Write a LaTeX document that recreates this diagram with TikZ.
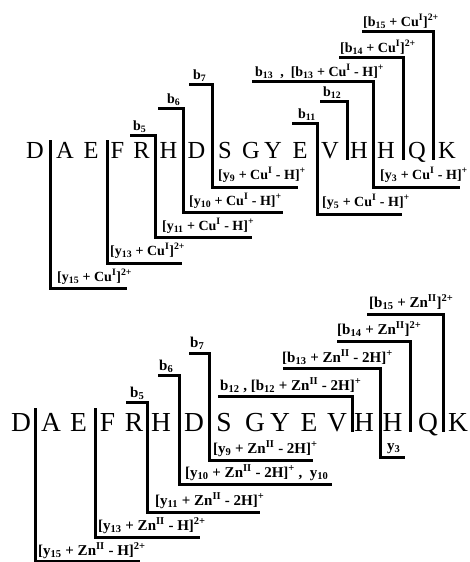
\documentclass[tikz,border=0pt]{standalone}
\usepackage{fontspec}
\setmainfont{Liberation Serif}
\newcommand\CuI{Cu\textsuperscript{I}}
\newcommand\ZnII{Zn\textsuperscript{II}}
\newcommand\sbb[1]{\textsubscript{#1}}
\newcommand\spp[1]{\textsuperscript{#1}}
\begin{document}
\begin{tikzpicture}[x=1pt,y=-1pt,
  res/.style={font=\fontsize{24.5}{26}\selectfont, anchor=base, inner sep=0pt},
  resB/.style={font=\fontsize{27.5}{29}\selectfont, anchor=base, inner sep=0pt},
  lab/.style={font=\bfseries\fontsize{14}{16}\selectfont, anchor=base west, inner sep=0pt},
  labB/.style={font=\bfseries\fontsize{15}{17}\selectfont, anchor=base west, inner sep=0pt},
  frag/.style={line width=3pt, line join=miter, line cap=butt}]
\useasboundingbox (0,0) rectangle (470,562);

% ---------------- top panel: Cu(I) ----------------
\foreach \l/\x [count=\i] in {D/35,A/65,E/91,F/117.5,R/141.5,H/168.5,D/196.5,S/225,G/251,Y/273,E/300,V/330,H/359,H/386,Q/417,K/447}
  \node[res] (t\i) at (\x,158) {\l};

% y ions (downward)
\draw[frag] (50,140) -- (50,288) -- (127,288);
\draw[frag] (107,140) -- (107,263) -- (182,263);
% b/y sharing cleavage
\draw[frag] (130,135) -- (155,135) -- (155,237) -- (252,237);
\draw[frag] (158,108) -- (183,108) -- (183,212) -- (283,212);
\draw[frag] (189,84) -- (212,84) -- (212,187) -- (298,187);
\draw[frag] (292,123) -- (317,123) -- (317,214) -- (402,214);
\draw[frag] (320,101) -- (347,101) -- (347,160);
\draw[frag] (252,81) -- (373,81) -- (373,187) -- (460,187);
\draw[frag] (339,57) -- (403,57) -- (403,160);
\draw[frag] (362,31) -- (433,31) -- (433,160);

% labels top
\node[lab] (tb5) at (133,130) {b\sbb{5}};
\node[lab] (tb6) at (167,103) {b\sbb{6}};
\node[lab] (tb7) at (193,79) {b\sbb{7}};
\node[lab] (tb11) at (298,118) {b\sbb{11}};
\node[lab] (tb12) at (323,96) {b\sbb{12}};
\node[lab] (tb13) at (255,76) {b\sbb{13}\ \ ,\ \ [b\sbb{13} + \CuI{} - H]\spp{+}};
\node[lab] (tb14) at (340,52) {[b\sbb{14} + \CuI]\spp{2+}};
\node[lab] (tb15) at (363,26) {[b\sbb{15} + \CuI]\spp{2+}};
\node[lab] (ty9) at (218,179) {[y\sbb{9} + \CuI{} - H]\spp{+}};
\node[lab] (ty3) at (380,179) {[y\sbb{3} + \CuI{} - H]\spp{+}};
\node[lab] (ty10) at (189,205) {[y\sbb{10} + \CuI{} - H]\spp{+}};
\node[lab] (ty5) at (322,206) {[y\sbb{5} + \CuI{} - H]\spp{+}};
\node[lab] (ty11) at (162,230) {[y\sbb{11} + \CuI{} - H]\spp{+}};
\node[lab] (ty13) at (110,255) {[y\sbb{13} + \CuI]\spp{2+}};
\node[lab] (ty15) at (57,281) {[y\sbb{15} + \CuI]\spp{2+}};

% ---------------- bottom panel: Zn(II) ----------------
\foreach \l/\x [count=\i] in {D/21,A/51,E/78.5,F/107.5,R/134,H/161,D/194,S/224,G/255,Y/280,E/309,V/337,H/364,H/392.5,Q/428,K/458}
  \node[resB] (u\i) at (\x,431) {\l};

\draw[frag] (35,408) -- (35,561) -- (140,561);
\draw[frag] (95,408) -- (95,537) -- (200,537);
\draw[frag] (126,402) -- (147,402) -- (147,512) -- (260,512);
\draw[frag] (158,375) -- (179,375) -- (179,484) -- (332,484);
\draw[frag] (189,353) -- (209,353) -- (209,460) -- (313,460);
\draw[frag] (218,396) -- (352,396) -- (352,432);
\draw[frag] (283,368) -- (380,368) -- (380,457) -- (405,457);
\draw[frag] (337,341) -- (410,341) -- (410,432);
\draw[frag] (367,314) -- (443,314) -- (443,432);

\node[labB] (ub5) at (130,397) {b\sbb{5}};
\node[labB] (ub6) at (159,370) {b\sbb{6}};
\node[labB] (ub7) at (190,347) {b\sbb{7}};
\node[labB] (ub12) at (220,390) {b\sbb{12} , [b\sbb{12} + \ZnII{} - 2H]\spp{+}};
\node[labB] (ub13) at (282,362) {[b\sbb{13} + \ZnII{} - 2H]\spp{+}};
\node[labB] (ub14) at (337,334) {[b\sbb{14} + \ZnII]\spp{2+}};
\node[labB] (ub15) at (369,307) {[b\sbb{15} + \ZnII]\spp{2+}};
\node[labB] (uy9) at (213,453) {[y\sbb{9} + \ZnII{} - 2H]\spp{+}};
\node[labB] (uy3) at (387,450) {y\sbb{3}};
\node[labB] (uy10) at (185,477) {[y\sbb{10} + \ZnII{} - 2H]\spp{+} ,\ \ y\sbb{10}};
\node[labB] (uy11) at (155,505) {[y\sbb{11} + \ZnII{} - 2H]\spp{+}};
\node[labB] (uy13) at (98,530) {[y\sbb{13} + \ZnII{} - H]\spp{2+}};
\node[labB] (uy15) at (38,555) {[y\sbb{15} + \ZnII{} - H]\spp{2+}};
\end{tikzpicture}
\end{document}
